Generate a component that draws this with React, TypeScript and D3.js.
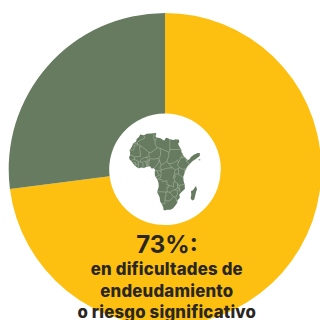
import React from "react";
import * as d3 from "d3";

// Share of low-income countries by debt situation
const shareLabels = ["en dificultades", "resto"];
const shareValues = [73, 27];
const shareColors = ["#FDC010", "#667B60"];

const headline = "73%:";
const captionLines = ["en dificultades de", "endeudamiento", "o riesgo significativo"];

type LonLat = [number, number];

const africaCoast: LonLat[] = [
  [-5.9,35.8],[-2,35.1],[1,36.5],[5,36.8],[10,37.3],[11,37],[10.5,35.5],[10.1,34.3],[11.2,33.2],[13,32.9],
  [15.3,32.3],[18,30.7],[19.5,30.4],[20.1,32],[21.7,32.9],[23.2,32.4],[25,31.6],[29,30.9],[31,31.5],[32.3,31.2],
  [34.2,31.3],[34.9,29.5],[34.3,27.8],[33.5,27.8],[34.5,25.5],[35.6,23.9],[37,21.8],[37.2,19.5],[38.5,18],[39.5,15.5],
  [41.2,14.6],[43.2,12.5],[45,12.5],[47,15],[50,17],[54,18.6],[56.3,18.8],[56.2,15.8],[52,13.2],[48.5,11],[46.8,9.5],
  [44,7],[41.5,3],[40,-1],[39,-3.5],[39.2,-6],[39.5,-8],[40.5,-10.5],[40.7,-14.8],[37,-17.8],[34.9,-19.8],
  [35.5,-23],[33,-25.3],[32.8,-27.5],[31,-30],[28.5,-32.8],[25.7,-34],[22,-34.2],[20,-34.8],[18.4,-34.1],[18.2,-32],
  [16.5,-28.6],[15,-26.5],[14.4,-22.5],[11.8,-17.5],[13.5,-12.5],[13.2,-9],[12,-6],[9.5,-2.5],[9.3,0.5],[9.7,3],
  [8.5,4.6],[6,4.3],[4.4,6.3],[1,5.9],[-2,4.8],[-4.5,5.2],[-7.5,4.4],[-9.3,5.5],[-13,8.5],[-13.7,9.6],
  [-15,11],[-16.7,12.4],[-17.5,14.7],[-16.4,16.5],[-16.3,19.5],[-17,21],[-14.9,24],[-13,27.7],[-10,29.5],[-9.7,31.5],[-6.8,34],
];

const madagascar: LonLat[] = [
  [52.3,-12],[53.4,-15.6],[52.5,-17],[50.5,-24.5],[48.2,-25.6],[46.7,-23.5],[47.4,-20],[47,-17],[49.3,-15.7],[51,-13.5],
];

const socotra: LonLat[] = [[55,12.8],[56.8,12.6],[56.8,11.9],[55,12]];

const borders: LonLat[][] = [
  [[-1.8,35],[-1.2,32.5],[-5,31],[-8.7,28.7],[-8.7,27.3]],
  [[-13,27.7],[-8.7,27.7]],
  [[-8.7,27.3],[-8.7,26],[-12,26],[-12,23.4],[-13,21.3],[-17,21.3]],
  [[-8.7,27.3],[-4.8,25],[-6.5,25],[-5.5,15.5],[-12,15]],
  [[-16.4,16.5],[-14,16.5],[-12,15]],
  [[-4.8,25],[1.2,21],[3.3,19],[3.3,16]],
  [[3.3,19],[5.8,19.4],[12,23.5]],
  [[8.5,37],[8.2,32.5],[9.5,30],[11.5,33]],
  [[9.5,30],[9.9,26.5],[12,23.5]],
  [[12,23.5],[15,23],[24,19.5]],
  [[25,31.6],[25,20],[24,19.5]],
  [[25,22],[36.9,22]],
  [[24,19.5],[24,15.7],[22.5,13],[22,11]],
  [[15,23],[15.5,16.9],[13.5,14],[14,12.5]],
  [[3.6,11.7],[4,13.5],[7,13],[13.5,13.7]],
  [[3.3,16],[4,15],[0.2,14.9],[1.5,13.3],[3.6,11.7]],
  [[2.7,6.3],[3.6,11.7]],
  [[8.5,4.6],[11,6.6],[13.5,10],[14,12.5]],
  [[14,12.5],[15,10],[16,7.5]],
  [[14.5,4.5],[16,7.5],[19,9],[22,11],[23.5,9],[27.5,5]],
  [[14.5,4.5],[16,3.5],[18.5,3.5],[22,4.5],[27.5,5]],
  [[9.8,2.3],[14,2.2],[16,1.8]],
  [[11.3,2.2],[13.2,-1],[14.4,-2],[11.5,-3],[10.5,-3.5]],
  [[16,3.5],[16,-1],[15,-4.5],[12.2,-5]],
  [[13,-5.9],[16.5,-5.9],[17.5,-8],[22,-7],[22,-11],[24,-11],[24,-13],[22,-13],[22,-16.5],[23.3,-17.6],[11.8,-17.3]],
  [[24,-11],[25,-12],[27,-12],[28.5,-13],[29,-12],[28.5,-9],[30.5,-8.2]],
  [[30.5,-8.2],[29,-4.5],[29,-2.5],[30,-1],[30,1.5],[31,3],[27.5,5]],
  [[24,9],[27,9],[30,10],[33,11.8],[34,10],[33,7.5],[35,5],[34,4],[31,3.5]],
  [[34,4],[34,-1]],
  [[34,-1],[37,-3],[39,-4.5]],
  [[30,-1],[34,-1]],
  [[29,-2.5],[30.8,-2.5],[30.5,-4],[29,-4.5]],
  [[30.5,-8.2],[33,-9.5],[34.5,-11.5],[40.4,-10.5]],
  [[33,-9.5],[33,-14],[35,-14.5],[34.5,-11.5]],
  [[35,-14.5],[35.5,-17],[34.3,-15.5]],
  [[33,-14],[30.3,-15.5]],
  [[23.3,-17.6],[25.3,-17.8],[28,-16],[30.3,-15.5],[33,-16],[32.8,-20],[31.3,-22.3],[29,-22.2],[26,-19],[25.3,-17.8]],
  [[20,-18],[21,-18],[21,-22],[20,-22],[20,-24.8],[22,-26],[25,-25.7],[29,-22.2]],
  [[20,-24.8],[20,-28.4],[16.5,-28.6]],
  [[31.3,-22.3],[32,-26],[32.8,-26.9]],
  [[38.5,18],[36.5,14.3],[34,10]],
  [[36.5,14.3],[40,14.5],[42.4,12.5]],
  [[42,12.8],[42.4,11],[44,11.8]],
  [[42.5,11],[45.5,8],[43,5],[41,3.9]],
  [[40.2,-1],[40.6,3.4]],
  [[35,5],[39,3.5],[41,3.9]],
  [[-12,15],[-11.5,12.4],[-13.7,12.6],[-15,11]],
  [[-13,9.5],[-11,10],[-10.5,8.5],[-8.5,7.5],[-7.5,8.5],[-8,10.3],[-5.5,10.5]],
  [[-11.5,12.4],[-8.5,11.5],[-8,10.3]],
  [[-11.5,7],[-10.5,8.5]],
  [[-7.5,8],[-7.5,4.4]],
  [[-3,5],[-2.8,9.5],[-5.5,10.5]],
  [[-5.5,10.5],[-5.5,12],[-4,13.5],[-2,14.2],[0.2,14.9]],
  [[1,5.9],[0,11]],
  [[-2.8,11],[0,11],[2.7,11.5],[3.6,11.7]],
  [[1.6,6.2],[1.5,11]],
];

const WIDTH = 320;
const HEIGHT = 320;
const CX = 165;
const CY = 169.3;
const OUTER_R = 156.3;
const INNER_R = 55.8;

const pie = d3.pie<number>().sort(null)(shareValues);
const arc = d3.arc<d3.PieArcDatum<number>>().innerRadius(INNER_R).outerRadius(OUTER_R);

const lonScale = d3.scaleLinear().domain([-17.5, 20]).range([129, 165]);
const latScale = d3.scaleLinear().domain([37.3, -34.8]).range([133, 210.5]);
const mapLine = d3.line<LonLat>().x((d) => lonScale(d[0])).y((d) => latScale(d[1]));

const FONT = "Inter, sans-serif";
const INK = "#2A2622";

export default function App() {
  return (
    <svg
      width={WIDTH}
      height={HEIGHT}
      viewBox={`0 0 ${WIDTH} ${HEIGHT}`}
      style={{ position: "absolute", left: 0, top: 0, background: "#fff" }}
    >
      <g transform={`translate(${CX},${CY})`}>
        {pie.map((slice, i) => (
          <path key={shareLabels[i]} d={arc(slice) ?? ""} fill={shareColors[i]} />
        ))}
      </g>
      {[africaCoast, madagascar, socotra].map((ring, i) => (
        <path key={i} d={(mapLine(ring) ?? "") + "Z"} fill={shareColors[1]} />
      ))}
      {borders.map((b, i) => (
        <path key={i} d={mapLine(b) ?? ""} fill="none" stroke="#B4C0AF" strokeWidth={0.5} />
      ))}
      <text x={167} y={253} textAnchor="middle" fontFamily={FONT} fontWeight={700} fontSize={24} fill={INK}>
        {headline}
      </text>
      {captionLines.map((line, i) => (
        <text
          key={line}
          x={166.8}
          y={275 + i * 21.5}
          textAnchor="middle"
          fontFamily={FONT}
          fontWeight={800}
          fontSize={16.8}
          letterSpacing={0.2}
          fill={INK}
        >
          {line}
        </text>
      ))}
    </svg>
  );
}
